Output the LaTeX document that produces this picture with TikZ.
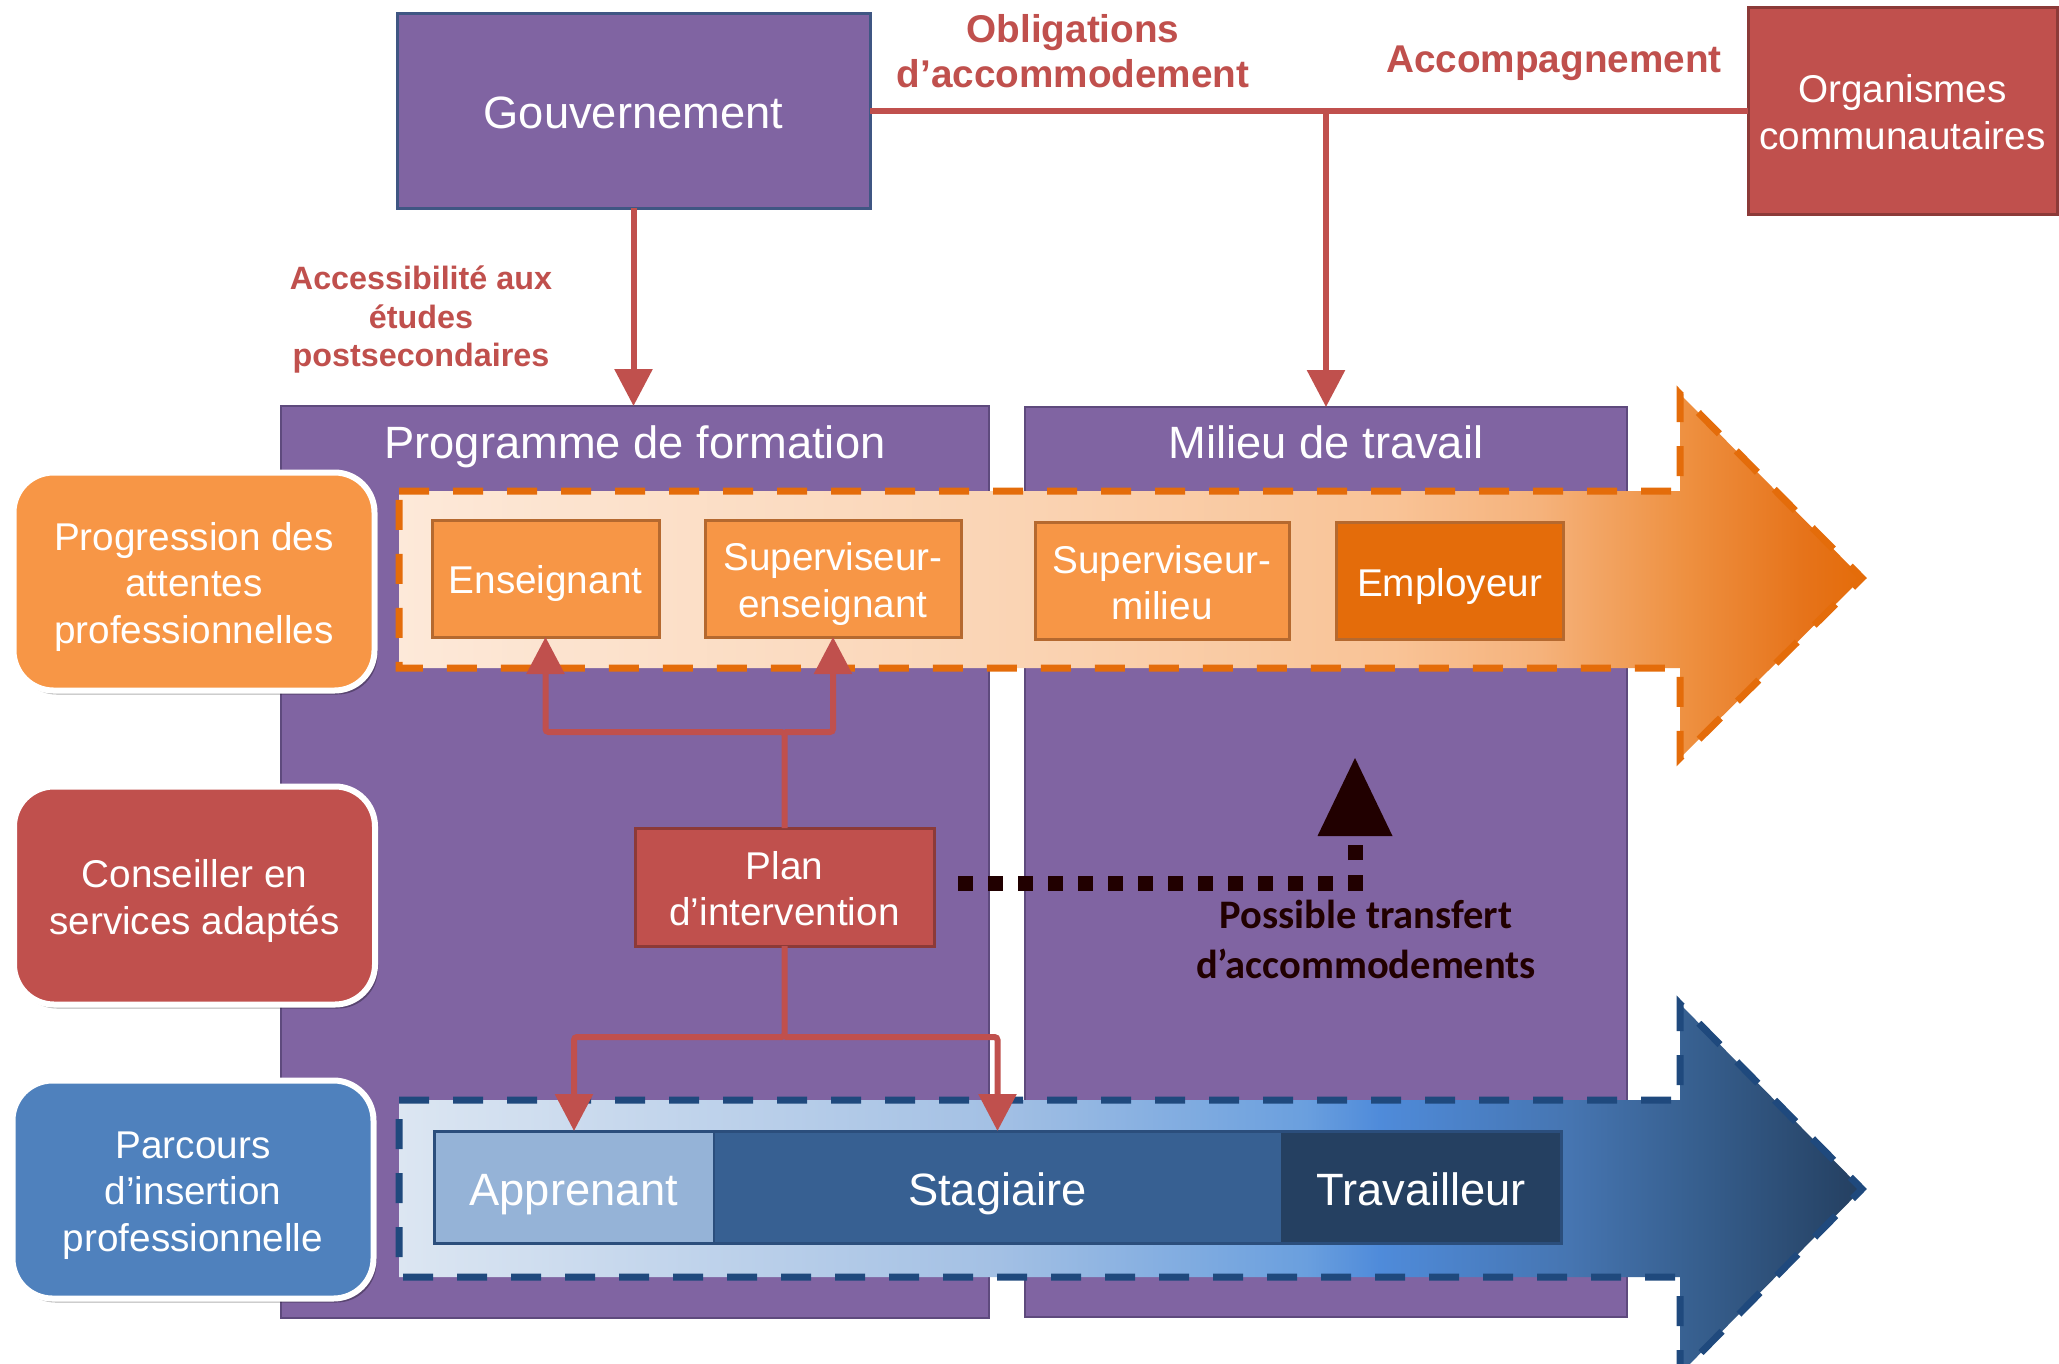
\documentclass[tikz,border=0pt]{standalone}
\usepackage{fontspec}
\setmainfont{Liberation Sans}
\newfontfamily\calfont{Carlito}
\usetikzlibrary{arrows.meta,shadows,calc}

\definecolor{purp}{HTML}{8064A2}
\definecolor{purpb}{HTML}{5E4A7D}
\definecolor{govb}{HTML}{3F5683}
\definecolor{redc}{HTML}{C0504D}
\definecolor{redb}{HTML}{8C3A38}
\definecolor{orL}{HTML}{F79646}
\definecolor{orD}{HTML}{E46C0A}
\definecolor{orb}{HTML}{B5692F}
\definecolor{bluL}{HTML}{4F81BD}
\definecolor{appc}{HTML}{95B3D7}
\definecolor{stagc}{HTML}{376092}
\definecolor{travc}{HTML}{254061}
\definecolor{barb}{HTML}{2B4E7C}
\definecolor{bluedash}{HTML}{1F497D}
\definecolor{darkc}{HTML}{210000}

\definecolor{orA}{HTML}{FDE9D9}
\definecolor{orB}{HTML}{FAD4B4}
\definecolor{orC}{HTML}{F9C396}
\definecolor{orE}{HTML}{F5B27B}
\definecolor{orF}{HTML}{EE9040}
\definecolor{orG}{HTML}{E6731A}

\definecolor{blA}{HTML}{DCE6F2}
\definecolor{blB}{HTML}{A3C0E4}
\definecolor{blC}{HTML}{6A9FDE}
\definecolor{blD}{HTML}{4F8BDA}
\definecolor{blE}{HTML}{4675B1}
\definecolor{blF}{HTML}{365E8D}
\definecolor{blG}{HTML}{243F60}

\pgfdeclarehorizontalshading{orshade}{100bp}{color(0bp)=(orA); color(25bp)=(orA); color(46bp)=(orB); color(59bp)=(orC); color(64bp)=(orE); color(69bp)=(orF); color(73bp)=(orG); color(75bp)=(orD); color(100bp)=(orD)}
\pgfdeclarehorizontalshading{blshade}{100bp}{color(0bp)=(blA); color(25bp)=(blA); color(45.5bp)=(blB); color(56bp)=(blC); color(58.5bp)=(blD); color(65bp)=(blE); color(69.5bp)=(blF); color(75bp)=(blG); color(100bp)=(blG)}

\newcommand\fsBig{\fontsize{45.3}{54}\selectfont}
\newcommand\fsMid{\fontsize{38.7}{46.5}\selectfont}
\newcommand\fsRed{\bfseries\fontsize{38.7}{45}\selectfont}
\newcommand\fsAcc{\bfseries\fontsize{32.3}{38.5}\selectfont}
\newcommand\fsCal{\calfont\bfseries\fontsize{40.5}{50}\selectfont}

\tikzset{
  every node/.style={inner sep=0pt, outer sep=0pt},
  bigone/.style={text height=45.3pt, text depth=9.06pt},
  midone/.style={text height=38.7pt, text depth=7.74pt},
  midtwo/.style={text height=85.2pt, text depth=7.74pt},
  midthree/.style={text height=131.7pt, text depth=7.74pt},
  bigbox/.style={fill=purp, draw=purpb, line width=2pt},
  ttl/.style={text=white, font=\fsBig, bigone},
  lbl/.style={rounded corners=40pt, draw=white, line width=6pt, text=white, align=center,
    font=\fsMid, minimum width=361pt, minimum height=218pt,
    drop shadow={shadow xshift=3pt, shadow yshift=-4pt, opacity=0.3, fill=black}},
  obox/.style={fill=orL, draw=orb, line width=3pt, text=white, align=center, font=\fsMid,
    minimum height=117pt},
  rbox/.style={fill=redc, draw=redb, line width=3pt, text=white, align=center, font=\fsMid},
  barbox/.style={text=white, font=\fsBig, bigone, minimum height=112pt},
  redtxt/.style={text=redc, align=center},
  redln/.style={draw=redc, line width=6pt},
  redarr/.style={draw=redc, line width=6pt, rounded corners=3pt, -{Triangle[length=37pt,width=37pt]}},
  dotc/.style={draw=darkc, line width=15pt, dash pattern=on 15pt off 15pt},
  banddash/.style={line width=7pt, dash pattern=on 30pt off 24pt}
}

\begin{document}
\begin{tikzpicture}[x=1pt, y=-1pt]
\useasboundingbox (0,0) rectangle (2059,1363);
\fill[white] (0,0) rectangle (2059,1363);

% big purple boxes
\node[bigbox, minimum width=708pt, minimum height=912pt] (prog) at (635,862) {};
\node[bigbox, minimum width=602pt, minimum height=910pt] (mil) at (1326,862) {};
\node[ttl] (progt) at (635,440) {Programme de formation};
\node[ttl] (milt) at (1326,440) {Milieu de travail};

% bands (arrows)
\shadedraw[shading=orshade, draw=orD, banddash]
  (399,491) -- (1680,491) -- (1680,394) -- (1862,578) -- (1680,758) -- (1680,668) -- (399,668) -- cycle;
\shadedraw[shading=blshade, draw=bluedash, banddash]
  (399,1100) -- (1680,1100) -- (1680,1004) -- (1862,1189) -- (1680,1374) -- (1680,1277) -- (399,1277) -- cycle;

% orange boxes
\node[obox, midone, minimum width=227pt] (ens) at (545.5,578.5) {Enseignant};
\node[obox, midtwo, minimum width=256pt] (se) at (833,578.5) {Superviseur-\\enseignant};
\node[obox, midtwo, minimum width=254pt] (sm) at (1162,581) {Superviseur-\\milieu};
\node[obox, midone, fill=orD, minimum width=227pt] (emp) at (1449.5,581) {Employeur};

% bottom bar
\node[barbox, fill=appc, minimum width=280pt] (appr) at (574,1187) {Apprenant};
\node[barbox, fill=stagc, minimum width=567pt] (stag) at (997.5,1187) {Stagiaire};
\node[barbox, fill=travc, minimum width=280pt] (trav) at (1421,1187) {Travailleur};
\draw[barb, line width=3pt] (appr.north west) rectangle (trav.south east);
\draw[barb, line width=2pt] (appr.north east) -- (appr.south east);

% left labels
\node[lbl, midthree, fill=orL] (lprog) at (194,581.5) {Progression des\\attentes\\professionnelles};
\node[lbl, midtwo, fill=redc] (lcons) at (194.5,895.5) {Conseiller en\\services adaptés};
\node[lbl, midthree, fill=bluL] (lparc) at (193,1189.5) {Parcours\\d’insertion\\professionnelle};

% top boxes
\node[fill=purp, draw=govb, line width=3pt, minimum width=473pt, minimum height=195pt,
  text=white, font=\fsBig, bigone] (gov) at (633.5,110.5) {Gouvernement};
\node[rbox, midtwo, minimum width=309pt, minimum height=207pt] (org) at (1902.5,110.5) {Organismes\\communautaires};

% top connectors
\draw[redln] (gov.east) -- (org.west);
\coordinate (tj) at (mil.north |- gov.east);
\draw[redarr] (tj) -- (mil.north);
\draw[redarr] (gov.south) -- (gov.south |- prog.north);

% red labels
\node[redtxt, font=\fsRed, text height=83.7pt, text depth=7.74pt] (oblig) at (1073,49.9) {Obligations\\d’accommodement};
\node[redtxt, font=\fsRed, text height=38.7pt, text depth=7.74pt] (accomp) at (1554,57) {Accompagnement};
\node[redtxt, font=\fsAcc, text height=109.3pt, text depth=6.46pt] (access) at (421,315.5) {Accessibilité aux\\études\\postsecondaires};

% plan
\node[rbox, midtwo, minimum width=299pt, minimum height=118pt] (plan) at (784.5,887) {Plan\\d’intervention};

\coordinate (uj) at (784.5,732);
\draw[redarr] (plan.north) -- (uj) -| (ens.south);
\draw[redarr] (uj) -| (se.south);
\coordinate (lj) at (784.5,1037);
\draw[redarr] (plan.south) -- (lj) -| (appr.north);
\draw[redarr] (lj) -| (stag.north);

% dotted transfer arrow
\coordinate (dc) at (1355,883);
\coordinate (db) at (1355,838);
\coordinate (dtip) at (1355,758);
\draw[dotc, shorten <=24pt] (plan.east |- dc) -- (dc) -- (db);
\fill[darkc] (dtip) -- ++(-37.5,78) -- ++(75,0) -- cycle;
\node[text=darkc, align=center, font=\fsCal, text height=80pt, text depth=10pt] (ptxt) at (1366,943) {Possible transfert\\d’accommodements};
\end{tikzpicture}
\end{document}
